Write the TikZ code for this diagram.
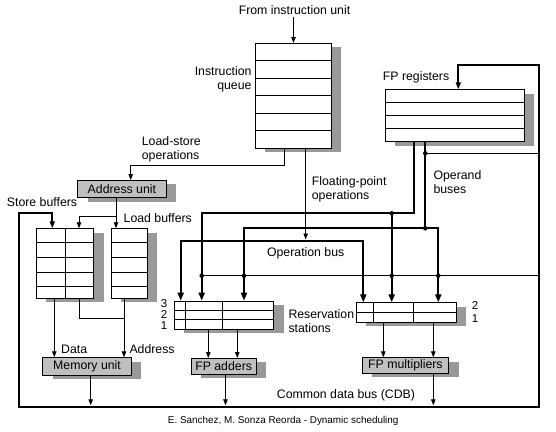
\documentclass[tikz,border=0pt]{standalone}
\usepackage{fontspec}
\setmainfont{Liberation Sans}
\usetikzlibrary{arrows.meta,shadows}
\begin{document}
\begin{tikzpicture}[x=1pt,y=-1pt,
  font=\fontsize{12.3}{14.5}\selectfont,
  box/.style={draw, line width=0.8pt, fill=white, inner sep=0pt, anchor=north west,
    general shadow={fill=gray!80, shadow xshift=10pt, shadow yshift=-4pt}},
  unit/.style={box, fill=gray!50},
  thinln/.style={line width=0.8pt},
  arr/.style={line width=0.8pt, -{Triangle[length=6pt,width=4.5pt]}},
  bus/.style={line width=2pt},
  busarr/.style={line width=2pt, -{Triangle[length=8pt,width=6pt]}},
  busboth/.style={line width=2pt, {Triangle[length=8pt,width=6pt]}-{Triangle[length=8pt,width=6pt]}},
  cdb/.style={line width=2pt, {Triangle[length=7pt,width=5pt]}-{Triangle[length=7pt,width=5pt]}},
  branch/.style={line width=1.4pt},
  lbl/.style={inner sep=0pt, anchor=west, align=left},
  dot/.style={circle, fill, inner sep=0pt, minimum size=4.5pt}
]
\useasboundingbox (0,0) rectangle (556,431);

% boxes
\node[box, minimum width=76pt, minimum height=105pt] (iq) at (255,43) {};
\node[box, minimum width=139pt, minimum height=52pt] (fpr) at (385,89.3) {};
\node[unit, minimum width=88.4pt, minimum height=17.3pt] (au) at (77.3,180) {Address unit};
\node[box, minimum width=57.6pt, minimum height=69.7pt] (sb) at (35.7,228.3) {};
\node[box, minimum width=36pt, minimum height=69.7pt] (lb) at (110.7,228.3) {};
\node[unit, minimum width=88.7pt, minimum height=17.7pt] (mu) at (42.3,357.3) {Memory unit};
\node[box, minimum width=99.3pt, minimum height=28.3pt] (ars) at (174,300.7) {};
\node[unit, minimum width=65.5pt, minimum height=16pt] (fpa) at (190.5,358) {FP adders};
\node[box, minimum width=100pt, minimum height=19.4pt] (mrs) at (356,302.3) {};
\node[unit, minimum width=86.6pt, minimum height=15.4pt] (fpm) at (361.7,357.3) {FP multipliers};

% internal lines
\foreach \y in {60.5,78,95.5,113,130.5} \draw[thinln] (iq.west |- 0,\y) -- (iq.east |- 0,\y);
\foreach \y in {102,115.2,128.4} \draw[thinln] (fpr.west |- 0,\y) -- (fpr.east |- 0,\y);
\foreach \y in {242.5,257.5,272.3,286.7} {
  \draw[thinln] (sb.west |- 0,\y) -- (sb.east |- 0,\y);
  \draw[thinln] (lb.west |- 0,\y) -- (lb.east |- 0,\y);
}
\draw[thinln] (65.3,0 |- sb.north) -- (65.3,0 |- sb.south);
\foreach \y in {310,319.3} \draw[thinln] (ars.west |- 0,\y) -- (ars.east |- 0,\y);
\foreach \x in {185,222.3} \draw[thinln] (\x,0 |- ars.north) -- (\x,0 |- ars.south);
\draw[thinln] (mrs.west |- 0,312) -- (mrs.east |- 0,312);
\foreach \x in {373.3,413.3} \draw[thinln] (\x,0 |- mrs.north) -- (\x,0 |- mrs.south);

% labels
\node[inner sep=0pt] (src) at (294.5,10) {From instruction unit};
\node[inner sep=0pt, anchor=east, align=right] (iqlbl) at (251.7,79.2) {Instruction\\queue};
\node[lbl] (fprlbl) at (382.7,77.3) {FP registers};
\node[lbl] (lslbl) at (141.7,149.5) {Load-store\\operations};
\node[lbl] (fplbl) at (311.7,189.5) {Floating-point\\operations};
\node[lbl] (oplbl) at (433.3,182) {Operand\\buses};
\node[lbl] (sblbl) at (6.7,202.3) {Store buffers};
\node[lbl] (lblbl) at (123.5,217.7) {Load buffers};
\node[inner sep=0pt] (obl) at (305.7,253.3) {Operation bus};
\node[inner sep=0pt, font=\fontsize{11.5}{13}\selectfont] (a3) at (164,303.5) {3};
\node[inner sep=0pt, font=\fontsize{11.5}{13}\selectfont] (a2) at (164,314.5) {2};
\node[inner sep=0pt, font=\fontsize{11.5}{13}\selectfont] (a1) at (164,325.5) {1};
\node[lbl] (rslbl) at (288.3,321.2) {Reservation\\stations};
\node[inner sep=0pt, font=\fontsize{11.5}{13}\selectfont] (m2) at (475,305.5) {2};
\node[inner sep=0pt, font=\fontsize{11.5}{13}\selectfont] (m1) at (475,318.3) {1};
\node[lbl] (datalbl) at (61,349) {Data};
\node[lbl] (addrlbl) at (129.3,349) {Address};
\node[lbl] (cdblbl) at (276.7,395) {Common data bus (CDB)};
\node[lbl, font=\fontsize{9.9}{12}\selectfont] (cap) at (167.7,420.7) {E. Sanchez, M. Sonza Reorda - Dynamic scheduling};

% instruction flow
\draw[arr] (293.5,0 |- src.south) ++(0,2) -- (293.5,0 |- iq.north);
\draw[arr] (284.3,0 |- iq.south) |- (130.7,165.7) -- (130.7,0 |- au.north);
\draw[arr] (305.7,0 |- iq.south) -- (305.7,239.5);
\draw[arr] (116,0 |- au.south) -- (116,0 |- lb.north);
\draw[arr] (116,216.7) -| (79,0 |- sb.north);

% CDB loop
\draw[cdb, line join=miter] (52.3,0 |- sb.north) |- (19.3,213.3) |- (538.7,406.7) |- (458.3,65) -- (458.3,0 |- fpr.north);
\draw[line width=2.4pt] (19.3,406.7) -- (538.7,406.7);
\draw[branch] (538.7,153.3) -- (425.3,153.3);
\draw[branch] (538.7,275.7) -- (201.7,275.7);

% operand buses
\draw[busarr] (414.3,0 |- fpr.south) |- (201.7,213.3) -- (201.7,0 |- ars.north);
\draw[busarr] (391.7,213.3) -- (391.7,0 |- mrs.north);
\draw[bus] (425.3,0 |- fpr.south) -- (425.3,228.3);
\draw[busboth] (244,0 |- ars.north) |- (438.3,228.3) -- (438.3,0 |- mrs.north);
% operation bus
\draw[busboth] (180.7,0 |- ars.north) |- (363.3,240.7) -- (363.3,0 |- mrs.north);

% dots
\foreach \p in {(425.3,153.3),(201.7,275.7),(244,275.7),(391.7,275.7),(438.3,275.7),(391.7,213.3),(425.3,228.3)}
  \node[dot] at \p {};

% memory side
\draw[arr] (54.3,0 |- sb.south) -- (54.3,0 |- mu.north);
\draw[thinln] (79,0 |- sb.south) |- (124,318.3);
\draw[arr] (124,0 |- lb.south) -- (124,0 |- mu.north);
\draw[arr] (90.7,0 |- mu.south) -- (90.7,405.3);

% FP units
\draw[arr] (208.3,0 |- ars.south) -- (208.3,0 |- fpa.north);
\draw[arr] (237.3,0 |- ars.south) -- (237.3,0 |- fpa.north);
\draw[arr] (225.5,0 |- fpa.south) -- (225.5,405.3);
\draw[arr] (383.3,0 |- mrs.south) -- (383.3,0 |- fpm.north);
\draw[arr] (433.3,0 |- mrs.south) -- (433.3,0 |- fpm.north);
\draw[arr] (433.3,0 |- fpm.south) -- (433.3,405.3);
\end{tikzpicture}
\end{document}
